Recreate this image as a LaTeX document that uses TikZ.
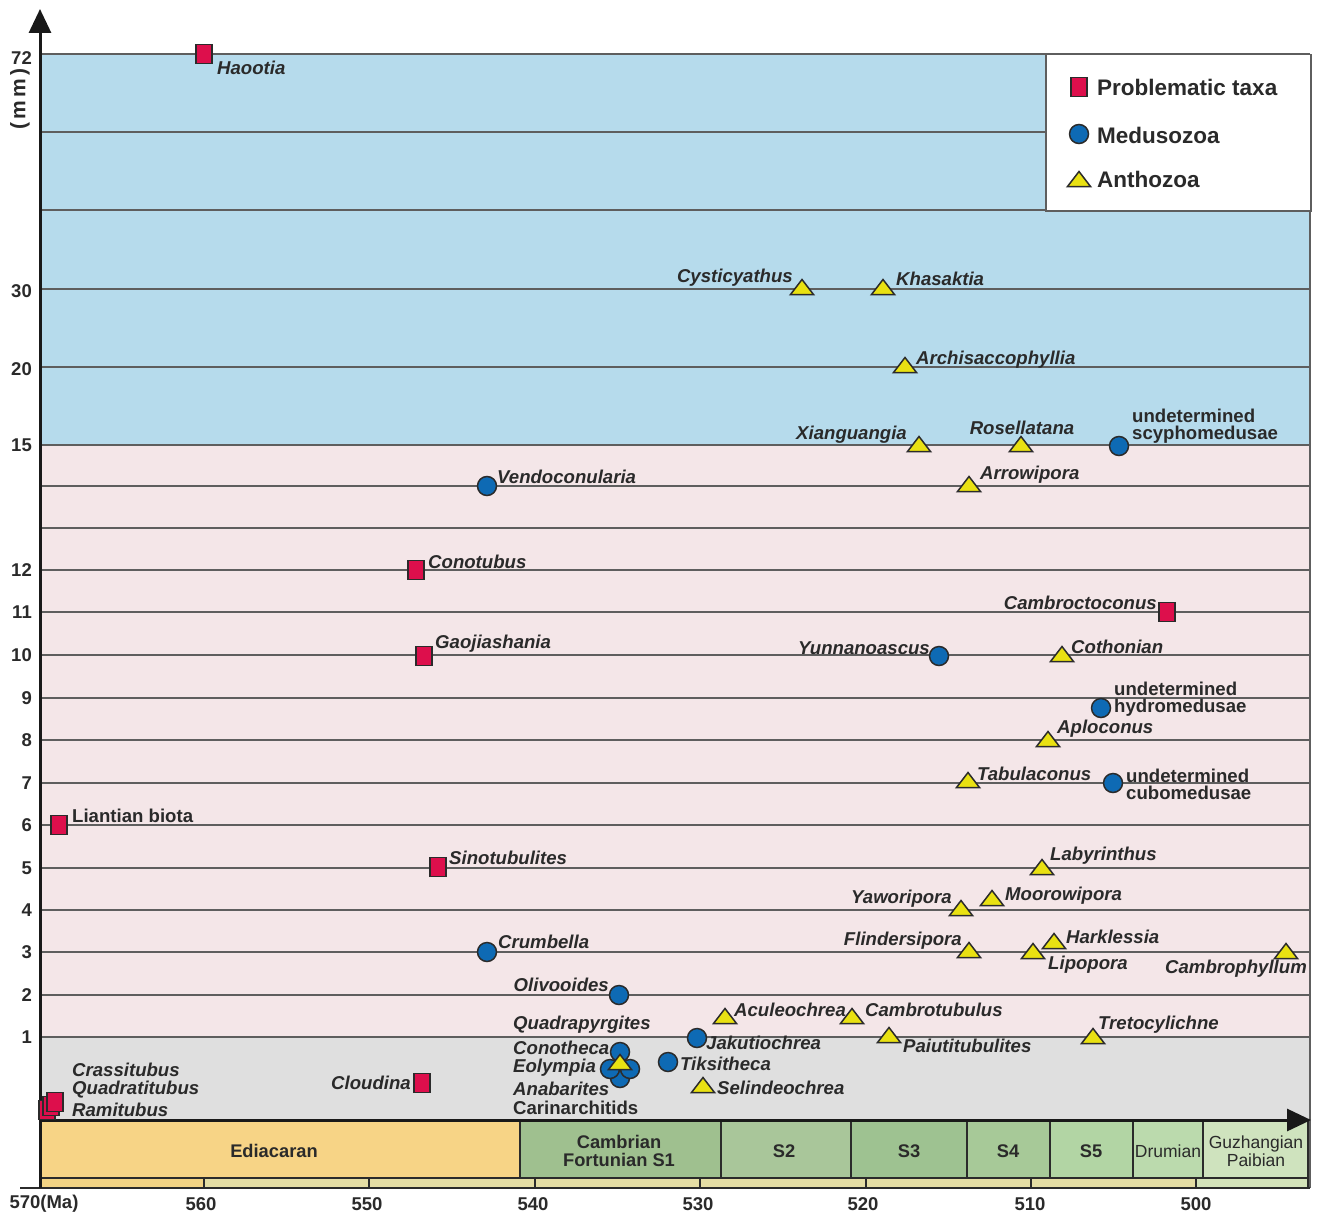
\documentclass[tikz,border=0pt]{standalone}
\usepackage{fontspec}
\setmainfont{Liberation Sans}
\usetikzlibrary{arrows.meta}
\definecolor{blueband}{HTML}{B6DBEC}
\definecolor{pinkband}{HTML}{F4E6E8}
\definecolor{greyband}{HTML}{DFDFDF}
\definecolor{gridc}{HTML}{5E5E5E}
\definecolor{sqred}{HTML}{DD0F4C}
\definecolor{ciblue}{HTML}{0E6AB4}
\definecolor{triyellow}{HTML}{E9E112}
\definecolor{mk}{HTML}{2B2B2B}
\definecolor{txt}{HTML}{2A2A2A}
\definecolor{ediac}{HTML}{F7D486}
\definecolor{fortc}{HTML}{9FC08F}
\definecolor{stwo}{HTML}{A9C69A}
\definecolor{sthree}{HTML}{9EC291}
\definecolor{sfour}{HTML}{A7C998}
\definecolor{sfive}{HTML}{B2D5A4}
\definecolor{drumc}{HTML}{BBDAAD}
\definecolor{guzhc}{HTML}{CFE3BE}
\definecolor{barL}{HTML}{F2D384}
\definecolor{barM}{HTML}{E4DDA4}
\definecolor{barR}{HTML}{D4E3BA}
\tikzset{
  lab/.style={inner sep=0pt, text=txt, font=\fontsize{18.6}{17}\selectfont\bfseries\itshape},
  labu/.style={inner sep=0pt, text=txt, align=left, font=\fontsize{18.6}{17}\selectfont\bfseries},
  axlab/.style={inner sep=0pt, text=txt, font=\fontsize{18.5}{20}\selectfont\bfseries},
  leglab/.style={inner sep=0pt, text=txt, anchor=west, font=\fontsize{22.5}{24}\selectfont\bfseries},
  perlab/.style={inner sep=0pt, text=txt, align=center, font=\fontsize{18.3}{18}\selectfont\bfseries},
  perlabr/.style={inner sep=0pt, text=txt, align=center, font=\fontsize{17.5}{18}\selectfont},
  sq/.style={rectangle, draw=mk, line width=1.5pt, fill=sqred, minimum width=16pt, minimum height=19pt, inner sep=0pt},
  ci/.style={circle, draw=mk, line width=1.5pt, fill=ciblue, minimum size=19pt, inner sep=0pt},
  tri/.pic={\draw[fill=triyellow, draw=mk, line width=1.5pt, line join=miter] (-11.5pt,-7.5pt)--(11.5pt,-7.5pt)--(0pt,7.5pt)--cycle;},
  gridline/.style={draw=gridc, line width=1.6pt},
  perbox/.style={draw=mk, line width=1.5pt}
}
\begin{document}
\begin{tikzpicture}[x=1pt,y=-1pt]
\useasboundingbox (0,0) rectangle (1319,1215);
% background bands
\fill[blueband] (40,54) rectangle (1310,445);
\fill[pinkband] (40,445) rectangle (1310,1037);
\fill[greyband] (40,1037) rectangle (1310,1120);
% grid lines
\foreach \yy in {54,132,210,289,367,445,486,528,570,612,655,698,740,783,825,868,910,952,995,1037}
  \draw[gridline] (40,\yy) -- (1310,\yy);
\draw[draw=gridc, line width=1.6pt] (1310,54) -- (1310,1188);
% legend
\node[draw=gridc, line width=1.5pt, fill=white, minimum width=265pt, minimum height=156pt, inner sep=0pt, anchor=north west] (legend) at (1045,54) {};
\node[sq] (lsq) at (1079,87) {};
\node[leglab] (lsqt) at (1097,87) {Problematic taxa};
\node[ci] (lci) at (1079,134) {};
\node[leglab] (lcit) at (1097,135) {Medusozoa};
\coordinate (ltri) at (1079,179);
\pic at (ltri) {tri};
\node[leglab] (ltrit) at (1097,179) {Anthozoa};
% period boxes
\fill[ediac] (40,1120) rectangle (520,1178);
\fill[fortc] (520,1120) rectangle (721,1178);
\fill[stwo] (721,1120) rectangle (851,1178);
\fill[sthree] (851,1120) rectangle (967,1178);
\fill[sfour] (967,1120) rectangle (1050,1178);
\fill[sfive] (1050,1120) rectangle (1133,1178);
\fill[drumc] (1133,1120) rectangle (1203,1178);
\fill[guzhc] (1203,1120) rectangle (1308,1178);
\foreach \xx in {520,721,851,967,1050,1133,1203,1308}
  \draw[perbox] (\xx,1120) -- (\xx,1178);
\fill[barL] (40,1178) rectangle (204,1188);
\fill[barM] (204,1178) rectangle (1196,1188);
\fill[barR] (1196,1178) rectangle (1308,1188);
\draw[perbox] (40,1178) -- (1308,1178);
\draw[perbox] (1308,1178) -- (1308,1188);
\foreach \xx in {204,369,535,700,866,1031,1196}
  \draw[perbox] (\xx,1178) -- (\xx,1188);
\draw[line width=2.5pt, draw=mk] (20,1188) -- (1310,1188);
\node[perlab] (pEdi) at (274,1151) {Ediacaran};
\node[perlab] (pFor) at (619,1151) {Cambrian\\Fortunian S1};
\node[perlab] (pS2) at (784,1151) {S2};
\node[perlab] (pS3) at (909,1151) {S3};
\node[perlab] (pS4) at (1008,1151) {S4};
\node[perlab] (pS5) at (1091,1151) {S5};
\node[perlabr] (pDru) at (1168,1151) {Drumian};
\node[perlabr] (pGuz) at (1256,1151) {Guzhangian\\Paibian};
% axes
\draw[line width=3pt, draw=black!90, -{Triangle[length=24pt,width=22pt]}] (40,1188) -- (40,9);
\draw[line width=3pt, draw=black!90, -{Triangle[length=24pt,width=22pt]}] (40,1120) -- (1311,1120);
% x labels
\node[axlab] (x570) at (44,1204) {570(Ma)};
\node[axlab] (x560) at (201,1204) {560};
\node[axlab] (x550) at (367,1204) {550};
\node[axlab] (x540) at (533,1204) {540};
\node[axlab] (x530) at (698,1204) {530};
\node[axlab] (x520) at (863,1204) {520};
\node[axlab] (x510) at (1030,1204) {510};
\node[axlab] (x500) at (1196,1204) {500};
% y labels
\node[axlab, anchor=east] (y72) at (32,58) {72};
\node[axlab, rotate=90, font=\fontsize{21}{22}\selectfont\bfseries\addfontfeatures{LetterSpace=15}] (ymm) at (20,99) {(mm)};
\node[axlab, anchor=east] (y30) at (32,291) {30};
\node[axlab, anchor=east] (y20) at (32,369) {20};
\node[axlab, anchor=east] (y15) at (32,445) {15};
\node[axlab, anchor=east] (y12) at (32,570) {12};
\node[axlab, anchor=east] (y11) at (32,612) {11};
\node[axlab, anchor=east] (y10) at (32,655) {10};
\node[axlab, anchor=east] (y9) at (32,698) {9};
\node[axlab, anchor=east] (y8) at (32,740) {8};
\node[axlab, anchor=east] (y7) at (32,783) {7};
\node[axlab, anchor=east] (y6) at (32,825) {6};
\node[axlab, anchor=east] (y5) at (32,868) {5};
\node[axlab, anchor=east] (y4) at (32,910) {4};
\node[axlab, anchor=east] (y3) at (32,952) {3};
\node[axlab, anchor=east] (y2) at (32,995) {2};
\node[axlab, anchor=east] (y1) at (32,1037) {1};
% problematic taxa
\node[sq] (Haootia) at (204,54) {};
\node[lab, anchor=west] (tHaootia) at (217,68) {Haootia};
\node[sq] (Conotubus) at (416,570) {};
\node[lab, anchor=west] (tConotubus) at (428,562) {Conotubus};
\node[sq] (Gaojiashania) at (424,656) {};
\node[lab, anchor=west] (tGaojiashania) at (435,644) {Gaojiashania};
\node[sq] (Liantian) at (59,825) {};
\node[labu, anchor=west] (tLiantian) at (72,816) {Liantian biota};
\node[sq] (Sinotubulites) at (438,867) {};
\node[lab, anchor=west] (tSinotubulites) at (449,858) {Sinotubulites};
\node[sq] (Cloudina) at (422,1083) {};
\node[lab, anchor=east] (tCloudina) at (411,1083) {Cloudina};
\node[sq] (Cambroctoconus) at (1167,612) {};
\node[lab, anchor=east] (tCambroctoconus) at (1157,603) {Cambroctoconus};
\node[sq] (Rami) at (47,1110) {};
\node[sq] (Quad) at (51,1106) {};
\node[sq] (Crass) at (55,1102) {};
\node[lab, anchor=west] (tCrass) at (72,1070) {Crassitubus};
\node[lab, anchor=west] (tQuad) at (72,1090) {Quadratitubus};
\node[lab, anchor=west] (tRami) at (72,1110) {Ramitubus};
% medusozoa
\node[ci] (Vendoconularia) at (487,486) {};
\node[lab, anchor=west] (tVendoconularia) at (497,477) {Vendoconularia};
\node[ci] (Crumbella) at (487,952) {};
\node[lab, anchor=west] (tCrumbella) at (498,942) {Crumbella};
\node[ci] (Olivooides) at (619,995) {};
\node[lab, anchor=east] (tOlivooides) at (609,985) {Olivooides};
\node[ci] (Jakutiochrea) at (697,1038) {};
\node[lab, anchor=west] (tJakutiochrea) at (706,1043) {Jakutiochrea};
\node[ci] (Tiksitheca) at (668,1062) {};
\node[lab, anchor=west] (tTiksitheca) at (680,1064) {Tiksitheca};
\node[ci] (Anabarites) at (620,1078) {};
\node[ci] (Eolympia) at (610,1069) {};
\node[ci] (Carinarch) at (630,1069) {};
\node[ci] (Conotheca) at (620,1052) {};
\coordinate (Quadrapyrgites) at (620,1062);
\pic at (Quadrapyrgites) {tri};
\node[lab, anchor=west] (tQuadrapyrgites) at (513,1025) {Quadrapyrgites};
\node[lab, anchor=west] (tConotheca) at (513,1048) {Conotheca};
\node[lab, anchor=west] (tEolympia) at (513,1068) {Eolympia};
\node[lab, anchor=west] (tAnabarites) at (513,1089) {Anabarites};
\node[labu, anchor=west] (tCarinarch) at (513,1108) {Carinarchitids};
\node[ci] (Yunnanoascus) at (939,656) {};
\node[lab, anchor=east] (tYunnanoascus) at (930,648) {Yunnanoascus};
\node[ci] (Hydro) at (1101,708) {};
\node[labu, anchor=west] (tHydro) at (1114,699) {undetermined\\hydromedusae};
\node[ci] (Cubo) at (1113,783) {};
\node[labu, anchor=west] (tCubo) at (1126,784) {undetermined\\cubomedusae};
\node[ci] (Scypho) at (1119,446) {};
\node[labu, anchor=west] (tScypho) at (1132,426) {undetermined\\scyphomedusae};
% anthozoa
\coordinate (Cysticyathus) at (802,287); \pic at (Cysticyathus) {tri};
\node[lab, anchor=east] (tCysticyathus) at (793,278) {Cysticyathus};
\coordinate (Khasaktia) at (883,287); \pic at (Khasaktia) {tri};
\node[lab, anchor=west] (tKhasaktia) at (896,279) {Khasaktia};
\coordinate (Archisaccophyllia) at (905,365); \pic at (Archisaccophyllia) {tri};
\node[lab, anchor=west] (tArchisaccophyllia) at (916,360) {Archisaccophyllia};
\coordinate (Xianguangia) at (919,444); \pic at (Xianguangia) {tri};
\node[lab, anchor=east] (tXianguangia) at (907,435) {Xianguangia};
\coordinate (Rosellatana) at (1021,444); \pic at (Rosellatana) {tri};
\node[lab] (tRosellatana) at (1022,428) {Rosellatana};
\coordinate (Arrowipora) at (969,484); \pic at (Arrowipora) {tri};
\node[lab, anchor=west] (tArrowipora) at (980,475) {Arrowipora};
\coordinate (Cothonian) at (1062,654); \pic at (Cothonian) {tri};
\node[lab, anchor=west] (tCothonian) at (1071,647) {Cothonian};
\coordinate (Aploconus) at (1048,739); \pic at (Aploconus) {tri};
\node[lab, anchor=west] (tAploconus) at (1057,729) {Aploconus};
\coordinate (Tabulaconus) at (968,780); \pic at (Tabulaconus) {tri};
\node[lab, anchor=west] (tTabulaconus) at (977,774) {Tabulaconus};
\coordinate (Labyrinthus) at (1042,867); \pic at (Labyrinthus) {tri};
\node[lab, anchor=west] (tLabyrinthus) at (1050,856) {Labyrinthus};
\coordinate (Yaworipora) at (961,908); \pic at (Yaworipora) {tri};
\node[lab, anchor=east] (tYaworipora) at (952,899) {Yaworipora};
\coordinate (Moorowipora) at (992,898); \pic at (Moorowipora) {tri};
\node[lab, anchor=west] (tMoorowipora) at (1005,896) {Moorowipora};
\coordinate (Flindersipora) at (969,950); \pic at (Flindersipora) {tri};
\node[lab, anchor=east] (tFlindersipora) at (962,941) {Flindersipora};
\coordinate (Lipopora) at (1033,951); \pic at (Lipopora) {tri};
\node[lab, anchor=west] (tLipopora) at (1048,965) {Lipopora};
\coordinate (Harklessia) at (1054,941); \pic at (Harklessia) {tri};
\node[lab, anchor=west] (tHarklessia) at (1066,937) {Harklessia};
\coordinate (Cambrophyllum) at (1286,951); \pic at (Cambrophyllum) {tri};
\node[lab] (tCambrophyllum) at (1236,969) {Cambrophyllum};
\coordinate (Aculeochrea) at (725,1016); \pic at (Aculeochrea) {tri};
\node[lab, anchor=west] (tAculeochrea) at (734,1010) {Aculeochrea};
\coordinate (Cambrotubulus) at (852,1016); \pic at (Cambrotubulus) {tri};
\node[lab, anchor=west] (tCambrotubulus) at (865,1010) {Cambrotubulus};
\coordinate (Paiutitubulites) at (889,1035); \pic at (Paiutitubulites) {tri};
\node[lab, anchor=west] (tPaiutitubulites) at (903,1046) {Paiutitubulites};
\coordinate (Tretocylichne) at (1093,1036); \pic at (Tretocylichne) {tri};
\node[lab, anchor=west] (tTretocylichne) at (1098,1025) {Tretocylichne};
\coordinate (Selindeochrea) at (703,1085); \pic at (Selindeochrea) {tri};
\node[lab, anchor=west] (tSelindeochrea) at (717,1088) {Selindeochrea};
\end{tikzpicture}
\end{document}
